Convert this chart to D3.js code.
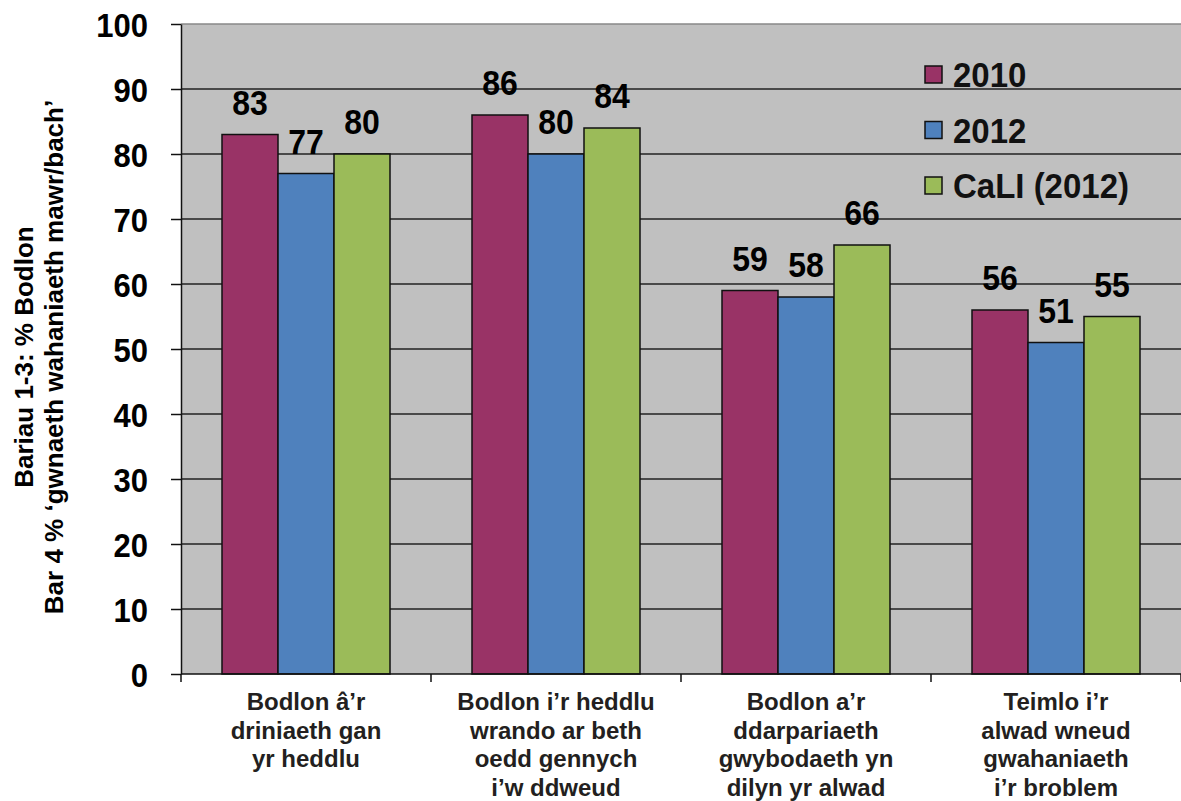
<!DOCTYPE html>
<html>
<head>
<meta charset="utf-8">
<script src="https://cdn.jsdelivr.net/npm/d3@7"></script>
<style>
  body { margin: 0; background: #fff; }
  text { font-family: "Liberation Sans", Arial, sans-serif; font-weight: bold; }
</style>
</head>
<body>
<div id="container"></div>
<script>
// data
var categories = [
  ['Bodlon â’r', 'driniaeth gan', 'yr heddlu'],
  ['Bodlon i’r heddlu', 'wrando ar beth', 'oedd gennych', 'i’w ddweud'],
  ['Bodlon a’r', 'ddarpariaeth', 'gwybodaeth yn', 'dilyn yr alwad'],
  ['Teimlo i’r', 'alwad wneud', 'gwahaniaeth', 'i’r broblem']
]
var seriesNames = ['2010', '2012', 'CaLI (2012)']
var values2010 = [83, 86, 59, 56]
var values2012 = [77, 80, 58, 51]
var valuesCali = [80, 84, 66, 55]
var yTicks = [0, 10, 20, 30, 40, 50, 60, 70, 80, 90, 100]
var colors = ['#993366', '#4f81bd', '#9bbb59']

var allValues = [values2010, values2012, valuesCali]

var width = 1181
var height = 801
var plot = { left: 181, right: 1181, top: 24, bottom: 674 }

var svg = d3.select('#container').append('svg')
  .attr('width', width).attr('height', height)

var catIndex = categories.map(function (d, i) { return i })

var x = d3.scaleBand().domain(catIndex).range([plot.left, plot.right])
var xSub = d3.scaleBand().domain(seriesNames).range([41, 209])
var y = d3.scaleLinear().domain([0, 100]).range([plot.bottom, plot.top])

// plot background
svg.append('rect')
  .attr('x', plot.left).attr('y', plot.top)
  .attr('width', plot.right - plot.left).attr('height', plot.bottom - plot.top)
  .attr('fill', '#c0c0c0')

// gridlines
svg.append('g').selectAll('line')
  .data(yTicks.filter(function (t) { return t > 0 }))
  .enter().append('line')
  .attr('x1', plot.left).attr('x2', plot.right)
  .attr('y1', function (d) { return y(d) }).attr('y2', function (d) { return y(d) })
  .attr('stroke', function (d) { return d === 100 ? '#888' : '#222' })
  .attr('stroke-width', 1.5)

// bars
var groups = svg.append('g').selectAll('g')
  .data(catIndex).enter().append('g')
  .attr('transform', function (d) { return 'translate(' + x(d) + ',0)' })

function barData(c) {
  return seriesNames.map(function (s, i) { return { s: s, i: i, v: allValues[i][c] } })
}

groups.selectAll('rect')
  .data(barData)
  .enter().append('rect')
  .attr('x', function (d) { return xSub(d.s) })
  .attr('y', function (d) { return y(d.v) })
  .attr('width', xSub.bandwidth())
  .attr('height', function (d) { return y(0) - y(d.v) })
  .attr('fill', function (d) { return colors[d.i] })
  .attr('stroke', '#111').attr('stroke-width', 1.5)

// value labels (digits in the original are a bit tall)
groups.selectAll('text.val')
  .data(barData)
  .enter().append('text')
  .attr('class', 'val')
  .attr('transform', function (d) {
    return 'translate(' + (xSub(d.s) + xSub.bandwidth() / 2) + ',' + (y(d.v) - 20) + ') scale(1,1.08)'
  })
  .attr('text-anchor', 'middle')
  .attr('font-size', 32)
  .attr('fill', '#000')
  .text(function (d) { return d.v })

// y axis
var yAxis = svg.append('g')
  .attr('transform', 'translate(' + plot.left + ',0)')
  .call(d3.axisLeft(y).tickValues(yTicks).tickSize(10).tickSizeOuter(0).tickPadding(23))
yAxis.select('.domain').attr('stroke', '#111').attr('stroke-width', 1.5)
yAxis.selectAll('.tick line').attr('stroke', '#111').attr('stroke-width', 1.5)
yAxis.selectAll('.tick text')
  .attr('font-size', 31).attr('font-family', '"Liberation Sans", Arial, sans-serif')
  .attr('font-weight', 'bold').attr('fill', '#000')
  .attr('x', null).attr('dy', null).attr('y', 0)
  .attr('transform', 'translate(-33,12) scale(1,1.08)')

// x axis
svg.append('line')
  .attr('x1', plot.left).attr('x2', plot.right)
  .attr('y1', plot.bottom).attr('y2', plot.bottom)
  .attr('stroke', '#111').attr('stroke-width', 1.5)

svg.append('g').selectAll('line')
  .data(catIndex.concat([categories.length]))
  .enter().append('line')
  .attr('x1', function (d) { return d < categories.length ? x(d) : plot.right })
  .attr('x2', function (d) { return d < categories.length ? x(d) : plot.right })
  .attr('y1', plot.bottom).attr('y2', plot.bottom + 8)
  .attr('stroke', '#111').attr('stroke-width', 1.5)

var catLabels = svg.append('g').selectAll('text')
  .data(catIndex).enter().append('text')
  .attr('x', function (d) { return x(d) + x.bandwidth() / 2 })
  .attr('y', 710)
  .attr('text-anchor', 'middle')
  .attr('font-size', 24)
  .attr('fill', '#231f20')

catLabels.selectAll('tspan')
  .data(function (d) { return categories[d] })
  .enter().append('tspan')
  .attr('x', function () { return d3.select(this.parentNode).attr('x') })
  .attr('dy', function (d, i) { return i === 0 ? 0 : 28.5 })
  .text(function (d) { return d })

// y title
var yTitle = svg.append('text')
  .attr('transform', 'translate(33,357) rotate(-90)')
  .attr('text-anchor', 'middle')
  .attr('font-size', 26)
  .attr('fill', '#000')
yTitle.append('tspan').attr('x', 0).attr('y', 0).text('Bariau 1-3: % Bodlon')
yTitle.append('tspan').attr('x', 0).attr('y', 30).text('Bar 4 % ‘gwnaeth wahaniaeth mawr/bach’')

// legend
var legend = svg.append('g').selectAll('g')
  .data(seriesNames).enter().append('g')
  .attr('transform', function (d, i) { return 'translate(925,' + (66 + i * 55.5) + ')' })
legend.append('rect')
  .attr('width', 17).attr('height', 17)
  .attr('fill', function (d, i) { return colors[i] })
  .attr('stroke', '#111').attr('stroke-width', 1.5)
legend.append('text')
  .attr('transform', 'translate(28,21) scale(1,1.08)')
  .attr('font-size', 33)
  .attr('fill', '#111')
  .text(function (d) { return d })
</script>
</body>
</html>
